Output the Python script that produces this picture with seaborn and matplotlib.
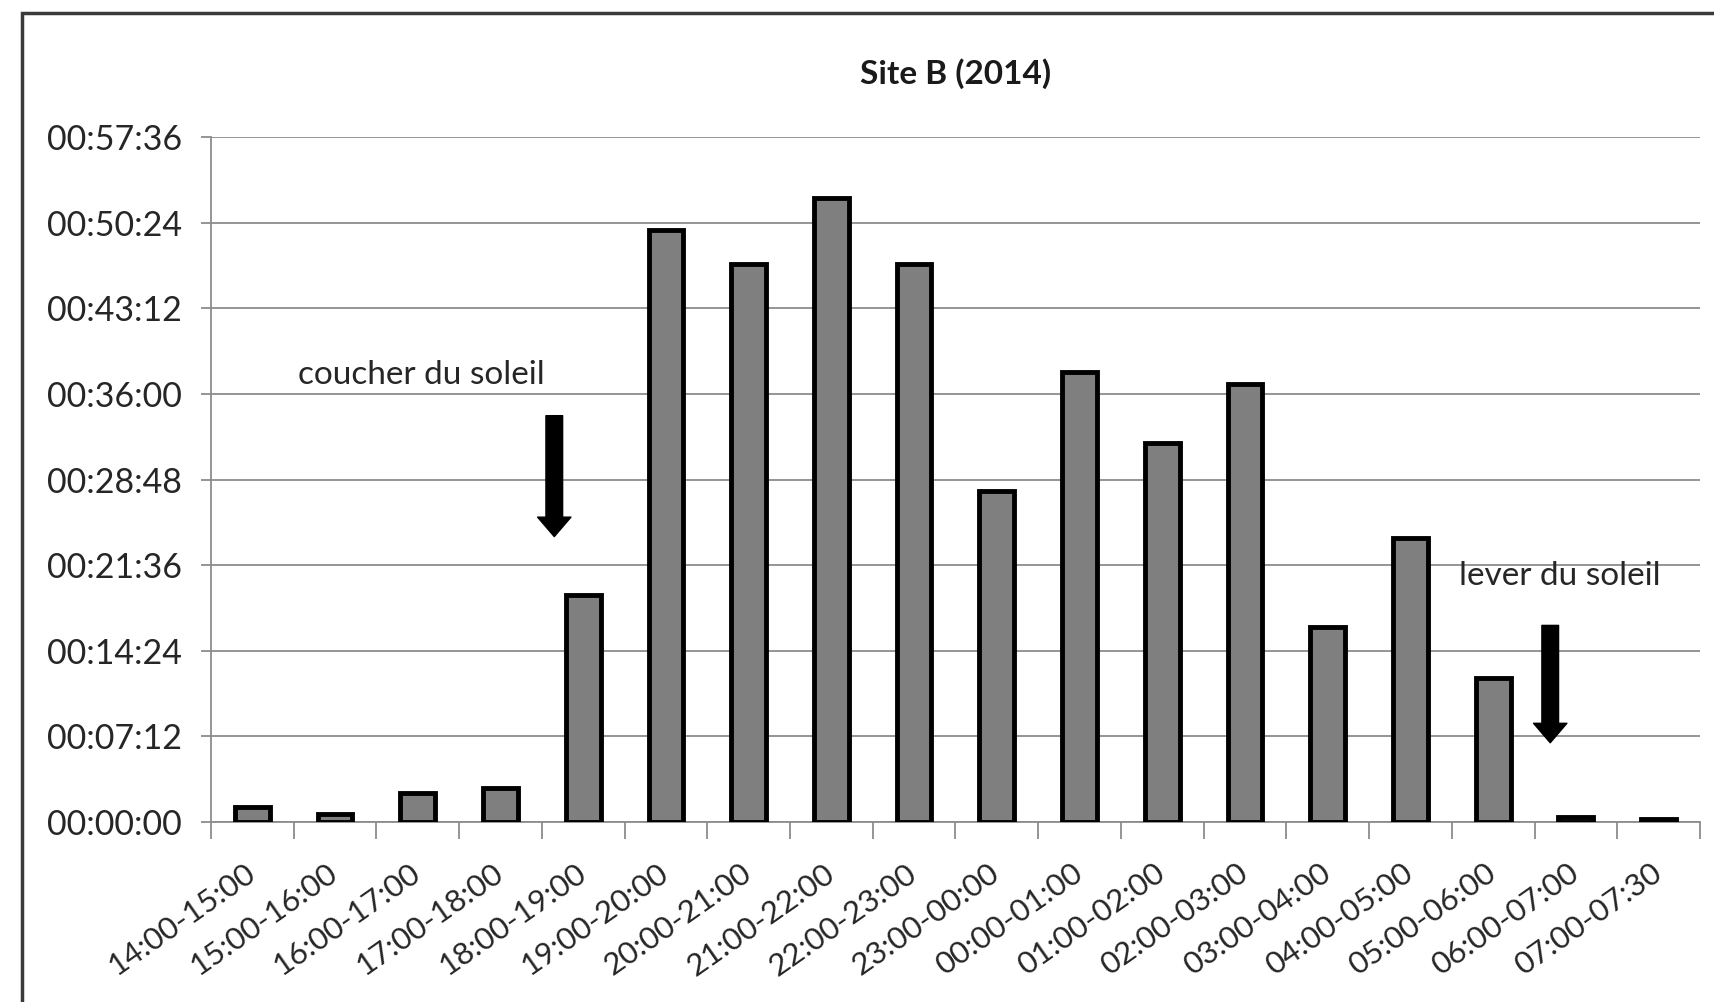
"""Site B (2014): durée d'activité par tranche horaire."""
import matplotlib.pyplot as plt
import matplotlib.patches as mpatches
import matplotlib.transforms as mtransforms
import pandas as pd
import seaborn as sns
from matplotlib.ticker import FixedLocator, FuncFormatter

# tranches horaires
slots = ['14:00-15:00', '15:00-16:00', '16:00-17:00', '17:00-18:00',
         '18:00-19:00', '19:00-20:00', '20:00-21:00', '21:00-22:00',
         '22:00-23:00', '23:00-00:00', '00:00-01:00', '01:00-02:00',
         '02:00-03:00', '03:00-04:00', '04:00-05:00', '05:00-06:00',
         '06:00-07:00', '07:00-07:30']
# durée en secondes
durations = [75, 42, 148, 173, 1146, 2987, 2816, 3146, 2816, 1670,
             2270, 1912, 2210, 986, 1433, 727, 25, 17]
y_ticks = [0, 432, 864, 1296, 1728, 2160, 2592, 3024, 3456]

sunset = {'label': 'coucher du soleil', 'text_x': 2.04, 'text_y': 2254,
          'arrow_x': 3.65, 'arrow_top': 2050, 'arrow_tip': 1440}
sunrise = {'label': 'lever du soleil', 'text_x': 15.81, 'text_y': 1240,
           'arrow_x': 15.69, 'arrow_top': 992, 'arrow_tip': 400}


def hms(sec, pos=None):
    sec = int(round(sec))
    return f'{sec // 3600:02d}:{sec % 3600 // 60:02d}:{sec % 60:02d}'


df = pd.DataFrame({'slot': slots, 'duration': durations})

sns.set_style('white')
plt.rcParams['font.family'] = ['Lato', 'DejaVu Sans']

fig = plt.figure(figsize=(17.14, 10.02), dpi=100)
ax = fig.add_axes([0.1231, 0.1796, 0.8687, 0.6837])

sns.barplot(data=df, x='slot', y='duration', color='#7f7f7f', saturation=1,
            edgecolor='black', linewidth=3.5, width=0.42, ax=ax, zorder=3)

ax.set_ylim(0, 3456)
ax.set_xlim(-0.5, len(slots) - 0.5)
ax.yaxis.set_major_locator(FixedLocator(y_ticks))
ax.yaxis.set_major_formatter(FuncFormatter(hms))
ax.grid(axis='y', color='#8c8c8c', linewidth=1.3, zorder=0)
ax.set_axisbelow(True)
ax.set_xlabel('')
ax.set_ylabel('')

for side in ['top', 'right']:
    ax.spines[side].set_visible(False)
for side in ['left', 'bottom']:
    ax.spines[side].set_color('#8c8c8c')
    ax.spines[side].set_linewidth(1.3)

ax.tick_params(axis='y', which='major', left=True, length=7, width=1.3,
               color='#8c8c8c', labelsize=24.5, labelcolor='#262626', pad=14)
ax.tick_params(axis='x', which='major', bottom=False, labelsize=22.5,
               labelcolor='#262626', pad=23)
ax.set_xticks([i - 0.5 for i in range(len(slots) + 1)], minor=True)
ax.tick_params(axis='x', which='minor', bottom=True, length=12, width=1.3,
               color='#8c8c8c')
# décalage léger des étiquettes vers la gauche
shift = mtransforms.ScaledTranslation(-6 / 72, 0, fig.dpi_scale_trans)
for lbl in ax.get_xticklabels():
    lbl.set_rotation(35)
    lbl.set_ha('right')
    lbl.set_va('top')
    lbl.set_rotation_mode('anchor')
    lbl.set_transform(lbl.get_transform() + shift)

ax.set_title('Site B (2014)', fontsize=24, fontweight='bold', color='#1a1a1a',
             pad=38)

for note in (sunset, sunrise):
    ax.text(note['text_x'], note['text_y'], note['label'], fontsize=24,
            color='#262626', ha='center', va='center')
    ax.annotate('', xy=(note['arrow_x'], note['arrow_tip']),
                xytext=(note['arrow_x'], note['arrow_top']),
                arrowprops=dict(arrowstyle='simple,head_length=0.7,'
                                'head_width=1.2,tail_width=0.6',
                                color='black', mutation_scale=20,
                                shrinkA=0, shrinkB=0))

# cadre extérieur
fig.add_artist(mpatches.Rectangle((22 / 1714, -0.1), 1.2, 1.1 - 13 / 1002,
                                  transform=fig.transFigure, fill=False,
                                  edgecolor='#3a3a3a', linewidth=2.5))

fig.savefig('out.png', dpi=100)
plt.close()
